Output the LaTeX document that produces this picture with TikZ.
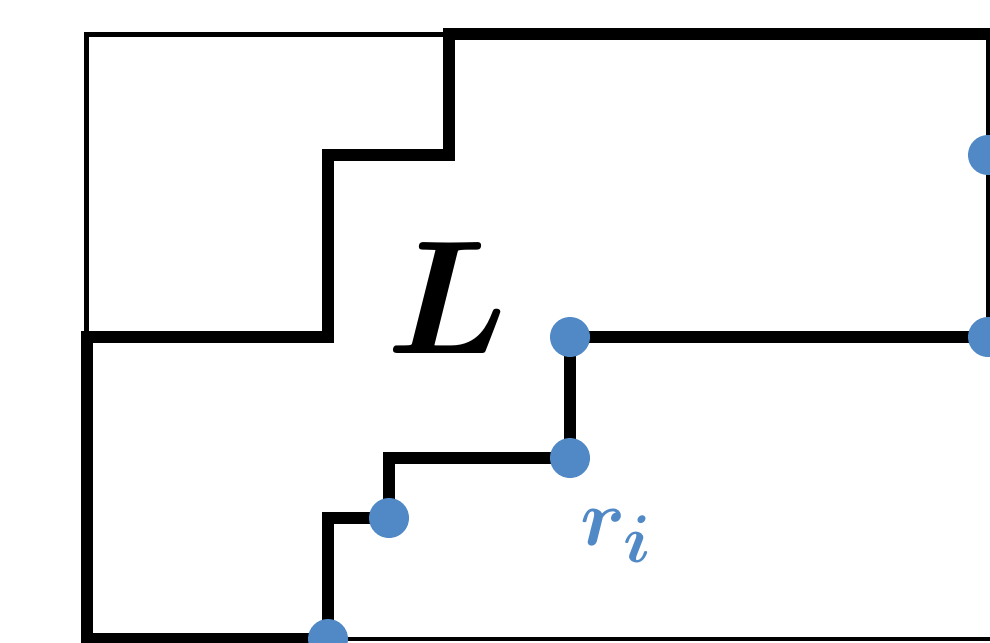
\documentclass[tikz,border=0pt]{standalone}
\usepackage{amsmath,amssymb}
\usepackage{tikz}
\definecolor{pinblue}{RGB}{80,137,198}
\tikzset{
  wall/.style={line width=0.24cm,draw=black,line join=miter},
  edge/.style={line width=0.085cm,draw=black,line join=miter},
  pin/.style={fill=pinblue},
  biglab/.style={inner sep=0pt,anchor=base west,font=\Huge,scale=3.7},
  pinlab/.style={inner sep=0pt,anchor=base west,text=pinblue,font=\Huge,scale=1.85}
}

\begin{document}
\begin{tikzpicture}[x=0.02cm,y=-0.02cm]
  \useasboundingbox (0,0) rectangle (990,642);
  % corner points of the lower staircase
  \coordinate (p1) at (328,639);
  \coordinate (p2) at (389,518);
  \coordinate (p3) at (570,458);
  \coordinate (p4) at (570,337);
  \coordinate (p5) at (988,337);
  \coordinate (p6) at (988,155);
  % thin outline
  \draw[edge] (449,34.5) -- (86.5,34.5) -- (86.5,337);
  \draw[edge] (988,34) -- (p5);
  \draw[edge] (p1) -- (992,639);
  % upper boundary of L
  \draw[wall] (992,34) -- (449,34) -- (449,155) -- (328,155) -- (328,337) -- (86.5,337) -- (86.5,639) -- (p1);
  % lower staircase
  \draw[wall] (p1) |- (p2) |- (p3) -- (p4) -- (p5);
  \foreach \p in {p1,p2,p3,p4,p5,p6}
    \fill[pin] (\p) circle (20);
  \node[biglab] (labL) at (385,353) {$\boldsymbol{L}$};
  \node[pinlab] (labr) at (580,545) {$\boldsymbol{r_i}$};
\end{tikzpicture}
\end{document}
